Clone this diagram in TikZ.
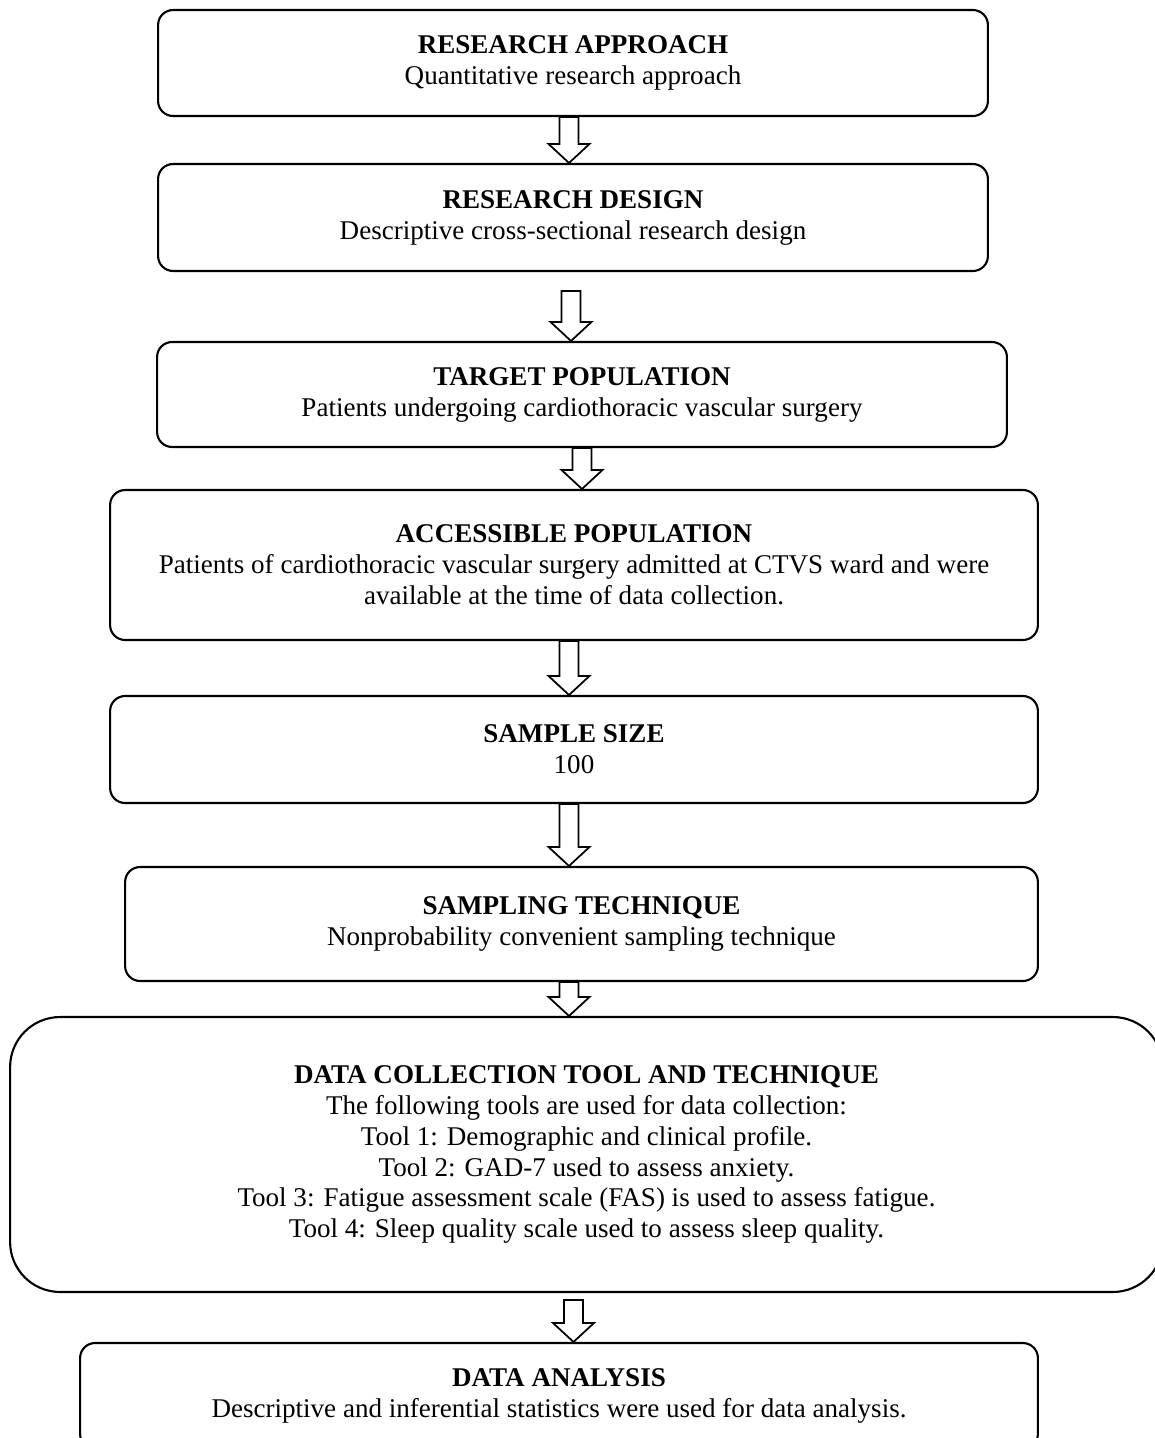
\documentclass[tikz,border=0pt]{standalone}
\usepackage{fontspec}
\setmainfont{Liberation Serif}
\usetikzlibrary{calc, positioning}

% hollow block arrow from the bottom of #2 to the top of #3 (#1 = xshift, #4 = gap)
\newcommand{\flowarrow}[4]{%
  \draw[arrow] let \p1=($(#2.south)+(#1,#4)$), \p2=(#3.north) in
    (\x1-0.19cm,\y1) -- (\x1+0.19cm,\y1) -- (\x1+0.19cm,\y2+0.38cm)
    -- (\x1+0.41cm,\y2+0.38cm) -- (\x1,\y2) -- (\x1-0.41cm,\y2+0.38cm)
    -- (\x1-0.19cm,\y2+0.38cm) -- cycle;}

\begin{document}
\begin{tikzpicture}[
    x=0.02cm, y=-0.02cm,
    box/.style={rectangle, draw, line width=1.2pt, rounded corners=0.3cm, align=center,
      font=\fontsize{15.4}{17.6}\selectfont},
    bigbox/.style={box, rounded corners=1cm},
    arrow/.style={line width=1pt, fill=white, line join=miter}
]
\useasboundingbox (0,0) rectangle (1155,1438);

% Boxes
\node[box, minimum width=16.6cm, minimum height=2.12cm] (approach) at (573, 63)
  {\textbf{RESEARCH APPROACH}\\Quantitative research approach};
\node[box, minimum width=16.6cm, minimum height=2.14cm] (design) at (573, 217.5)
  {\textbf{RESEARCH DESIGN}\\Descriptive cross-sectional research design};
\node[box, minimum width=17cm, minimum height=2.1cm] (target) at (582, 394.5)
  {\textbf{TARGET POPULATION}\\Patients undergoing cardiothoracic vascular surgery};
\node[box, minimum width=18.56cm, minimum height=3cm] (access) at (574, 565)
  {\textbf{ACCESSIBLE POPULATION}\\Patients of cardiothoracic vascular surgery admitted at CTVS ward and were\\available at the time of data collection.};
\node[box, minimum width=18.56cm, minimum height=2.14cm] (size) at (574, 749.5)
  {\textbf{SAMPLE SIZE}\\100};
\node[box, minimum width=18.26cm, minimum height=2.28cm] (sampling) at (581.5, 924)
  {\textbf{SAMPLING TECHNIQUE}\\Nonprobability convenient sampling technique};
\node[bigbox, minimum width=23.06cm, minimum height=5.5cm] (tools) at (586.5, 1154.5)
  {\textbf{DATA COLLECTION TOOL AND TECHNIQUE}\\
   The following tools are used for data collection:\\
   Tool 1: Demographic and clinical profile.\\
   Tool 2: GAD-7 used to assess anxiety.\\
   Tool 3: Fatigue assessment scale (FAS) is used to assess fatigue.\\
   Tool 4: Sleep quality scale used to assess sleep quality.};
\node[box, minimum width=19.16cm, minimum height=2.12cm] (analysis) at (559, 1396)
  {\textbf{DATA ANALYSIS}\\Descriptive and inferential statistics were used for data analysis.};

% Arrows between boxes
\flowarrow{-4}{approach}{design}{0}
\flowarrow{-2}{design}{target}{19}
\flowarrow{0}{target}{access}{0}
\flowarrow{-5}{access}{size}{0}
\flowarrow{-5}{size}{sampling}{0}
\flowarrow{-12.5}{sampling}{tools}{0}
\flowarrow{-13}{tools}{analysis}{7}

\end{tikzpicture}
\end{document}
